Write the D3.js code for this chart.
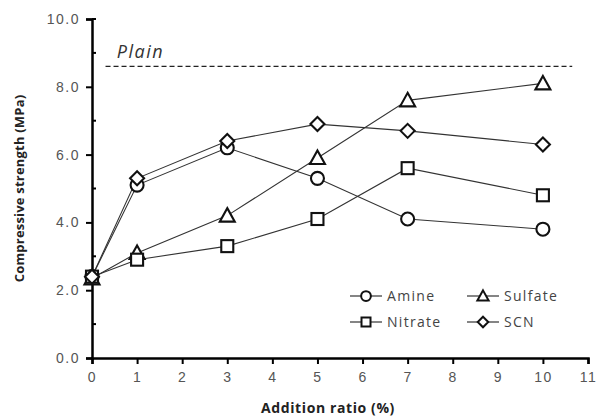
<!DOCTYPE html>
<html>
<head>
<meta charset="utf-8">
<script src="https://cdn.jsdelivr.net/npm/d3@7"></script>
<style>
  body { margin: 0; background: #fff; }
  svg { font-family: "Open Sans", "DejaVu Sans", sans-serif; }
</style>
</head>
<body>
<div id="chart"></div>
<script>
// Data
const RATIOS = [0, 1, 3, 5, 7, 10];
const AMINE = [2.4, 5.1, 6.2, 5.3, 4.1, 3.8];
const SULFATE = [2.35, 3.1, 4.2, 5.9, 7.6, 8.1];
const NITRATE = [2.4, 2.9, 3.3, 4.1, 5.6, 4.8];
const SCN = [2.4, 5.3, 6.4, 6.9, 6.7, 6.3];
const PLAIN = 8.6;
const X_TICKS = d3.range(0, 12);
const Y_TICKS = [0, 2, 4, 6, 8, 10];

const SERIES = [
    { name: 'Amine', values: AMINE, symbol: 'circle' },
    { name: 'Sulfate', values: SULFATE, symbol: 'triangle' },
    { name: 'Nitrate', values: NITRATE, symbol: 'square' },
    { name: 'SCN', values: SCN, symbol: 'diamond' }
];

const WIDTH = 604, HEIGHT = 418;
const MARGIN = { top: 19, right: 16, bottom: 60, left: 92 };

const svg = d3.select('#chart').append('svg')
    .attr('width', WIDTH)
    .attr('height', HEIGHT);

const x = d3.scaleLinear().domain([0, 11]).range([MARGIN.left, WIDTH - MARGIN.right]);
const y = d3.scaleLinear().domain([0, 10]).range([HEIGHT - MARGIN.bottom, MARGIN.top]);

// Marker drawing (k = scale)
function drawMarker(g, symbol, k = 1, sw = 2.1) {
    let m;
    if (symbol === 'circle') {
        m = g.append('circle').attr('r', 6.5 * k);
    } else if (symbol === 'square') {
        m = g.append('rect').attr('x', -6 * k).attr('y', -6 * k).attr('width', 12 * k).attr('height', 12 * k);
    } else if (symbol === 'triangle') {
        m = g.append('path').attr('d', `M0,${-7.5 * k}L${7.5 * k},${6 * k}L${-7.5 * k},${6 * k}Z`);
    } else {
        m = g.append('path').attr('d', `M0,${-7 * k}L${7 * k},0L0,${7 * k}L${-7 * k},0Z`);
    }
    m.attr('fill', '#fff').attr('stroke', '#111').attr('stroke-width', sw);
}

// Axes
const xAxis = svg.append('g')
    .attr('transform', `translate(0, ${y(0)})`)
    .call(d3.axisBottom(x).tickValues(X_TICKS).tickSize(6).tickFormat(d3.format('d')));
xAxis.select('.domain').attr('stroke', '#000').attr('stroke-width', 2.5);
xAxis.selectAll('.tick line').attr('stroke', '#000').attr('stroke-width', 2);
xAxis.selectAll('.tick text').attr('fill', '#555').style('font-size', '14px')
    .style('letter-spacing', '1.5px').attr('dy', '1.05em');

const yAxis = svg.append('g')
    .attr('transform', `translate(${x(0)}, 0)`)
    .call(d3.axisLeft(y).tickValues(Y_TICKS).tickSize(6).tickFormat(d3.format('.1f')));
yAxis.select('.domain').attr('stroke', '#000').attr('stroke-width', 2.5);
yAxis.selectAll('.tick line').attr('stroke', '#000').attr('stroke-width', 2);
yAxis.selectAll('.tick text').attr('fill', '#555').style('font-size', '14px')
    .style('letter-spacing', '1.5px').attr('x', -12);

// minor ticks
svg.append('g').selectAll('line')
    .data([1, 3, 5, 7, 9, 10])
    .join('line')
    .attr('x1', x(0)).attr('x2', x(0) + 4)
    .attr('y1', d => y(d)).attr('y2', d => y(d))
    .attr('stroke', '#000').attr('stroke-width', 2);

// Axis titles
svg.append('text')
    .attr('x', 328).attr('y', 413)
    .attr('text-anchor', 'middle')
    .style('font-size', '14px').style('font-weight', 'bold')
    .style('letter-spacing', '0.6px')
    .attr('fill', '#222')
    .text('Addition ratio (%)');
svg.append('text')
    .attr('transform', `translate(24, ${y(5)}) rotate(-90)`)
    .attr('text-anchor', 'middle')
    .style('font-size', '13px').style('font-weight', 'bold')
    .style('letter-spacing', '0.2px')
    .attr('fill', '#222')
    .text('Compressive strength (MPa)');

// Plain reference
svg.append('line')
    .attr('x1', x(0.3)).attr('x2', x(10.65))
    .attr('y1', y(PLAIN)).attr('y2', y(PLAIN))
    .attr('stroke', '#222').attr('stroke-width', 1.2)
    .attr('stroke-dasharray', '5,3');
svg.append('text')
    .attr('x', x(0.55)).attr('y', y(PLAIN) - 8)
    .style('font-size', '18px').style('font-style', 'italic')
    .style('letter-spacing', '1.5px')
    .attr('fill', '#333')
    .text('Plain');

// Lines
const line = d3.line().x((d, i) => x(RATIOS[i])).y(d => y(d));
svg.append('g').selectAll('path')
    .data(SERIES)
    .join('path')
    .attr('d', d => line(d.values))
    .attr('fill', 'none')
    .attr('stroke', '#333')
    .attr('stroke-width', 1.1);

// Markers
SERIES.forEach(s => {
    s.values.forEach((v, i) => {
        const g = svg.append('g').attr('transform', `translate(${x(RATIOS[i])}, ${y(v)})`);
        drawMarker(g, s.symbol);
    });
});

// Legend
const LEGEND_POS = [
    { name: 'Amine', lx: 350, ly: 296 },
    { name: 'Sulfate', lx: 467, ly: 296 },
    { name: 'Nitrate', lx: 350, ly: 322 },
    { name: 'SCN', lx: 467, ly: 322 }
];
const legend = svg.append('g');
LEGEND_POS.forEach(p => {
    const s = SERIES.find(d => d.name === p.name);
    const g = legend.append('g').attr('transform', `translate(${p.lx}, ${p.ly})`);
    g.append('line').attr('x1', 0).attr('x2', 32).attr('y1', 0).attr('y2', 0)
        .attr('stroke', '#333').attr('stroke-width', 1.2);
    const mg = g.append('g').attr('transform', 'translate(16, 0)');
    drawMarker(mg, s.symbol, 0.75, 2);
    g.append('text').attr('x', 37).attr('y', 0).attr('dy', '0.35em')
        .style('font-size', '14px').style('letter-spacing', '1.3px').attr('fill', '#444')
        .text(s.name);
});
</script>
</body>
</html>
